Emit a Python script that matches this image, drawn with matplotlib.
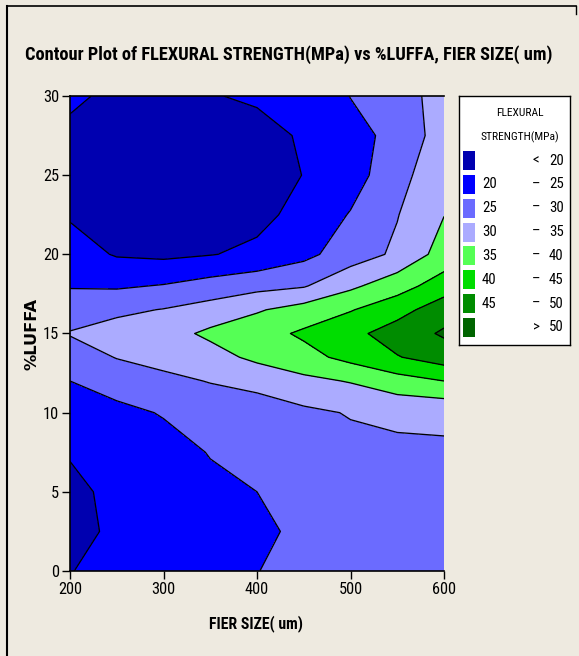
import numpy as np
import matplotlib
matplotlib.use("Agg")
import matplotlib.pyplot as plt
from matplotlib.patches import Rectangle
from matplotlib.lines import Line2D

# Fitted response surface: flexural strength (MPa) on a fibre size x %luffa grid
fiber_size = [200, 250, 300, 350, 400, 450, 500, 550, 600]
luffa_pct = [0, 2.5, 5, 7.5, 10, 12, 13.5, 15, 16.5, 18, 20, 22.5, 25, 27.5, 30]
strength = [
    [19.9, 21.0, 22.3, 23.6, 24.9, 26.5, 27.5, 28.5, 29.0],
    [18.8, 20.7, 22.0, 23.5, 23.8, 26.2, 27.2, 28.2, 28.8],
    [19.0, 21.0, 22.3, 24.0, 25.0, 26.6, 27.6, 28.5, 29.0],
    [20.3, 22.0, 23.3, 25.2, 26.5, 27.8, 28.6, 29.0, 29.3],
    [22.8, 23.8, 25.3, 27.3, 28.0, 29.0, 30.3, 31.0, 31.0],
    [25.0, 27.0, 28.9, 30.2, 31.2, 33.8, 35.3, 38.0, 40.0],
    [27.5, 30.2, 31.5, 33.0, 36.2, 38.3, 41.5, 44.7, 47.5],
    [30.3, 32.0, 33.0, 36.0, 38.0, 40.8, 43.5, 47.5, 50.6],
    [27.5, 29.0, 30.2, 32.0, 34.5, 37.0, 39.7, 43.0, 48.0],
    [24.7, 24.4, 25.3, 27.0, 28.5, 29.6, 34.0, 38.0, 42.4],
    [22.2, 19.6, 19.0, 19.8, 21.0, 23.7, 27.5, 30.9, 37.1],
    [19.5, 17.5, 16.5, 17.5, 18.7, 21.5, 25.3, 29.8, 34.9],
    [18.5, 17.0, 16.0, 17.0, 18.0, 20.1, 22.8, 28.3, 33.5],
    [18.8, 17.3, 16.5, 18.0, 18.8, 20.4, 23.5, 26.3, 32.5],
    [21.0, 18.8, 18.0, 19.8, 20.5, 21.5, 25.1, 27.8, 32.0],
]

contour_levels = [20, 25, 30, 35, 40, 45, 50]
band_colors = ["#0000B0", "#0000FF", "#6B6BFF", "#ABABFF",
               "#55FF55", "#00DD00", "#008C00", "#006400"]
x_ticks = [200, 300, 400, 500, 600]
y_ticks = [0, 5, 10, 15, 20, 25, 30]

BG = "#EEEAE0"
narrow = ["Liberation Sans Narrow", "Roboto Condensed", "DejaVu Sans"]
W, H = 579, 656

fig = plt.figure(figsize=(W / 100, H / 100), dpi=100, facecolor=BG)
renderer = fig.canvas.get_renderer()


def fit_width(txt, target_px, vertical=False):
    """Scale a text's font size so its rendered extent spans target_px."""
    bb = txt.get_window_extent(renderer)
    span = bb.height if vertical else bb.width
    txt.set_fontsize(txt.get_fontsize() * target_px / span)
    return txt.get_fontsize()


# window frame along the top and left
fig.add_artist(Line2D([7 / W, 576 / W], [1 - 5.5 / H, 1 - 5.5 / H],
                      transform=fig.transFigure, color="black", lw=1.2))
fig.add_artist(Line2D([7.5 / W, 7.5 / W], [0, 1 - 5.5 / H],
                      transform=fig.transFigure, color="black", lw=1.5))
fig.add_artist(Line2D([576 / W, 576 / W], [1 - 5.5 / H, 1 - 14 / H],
                      transform=fig.transFigure, color="black", lw=1.0))

ax = fig.add_axes([70 / W, (H - 571) / H, 374 / W, 475 / H])
ax.set_facecolor(BG)

X, Y = np.meshgrid(fiber_size, luffa_pct)
Z = np.array(strength)
bounds = [-1e9] + contour_levels + [1e9]
ax.contourf(X, Y, Z, levels=bounds, colors=band_colors)
ax.contour(X, Y, Z, levels=contour_levels, colors="black", linewidths=0.95)

ax.set_xlim(200, 600)
ax.set_ylim(0, 30)
ax.set_xticks(x_ticks)
ax.set_yticks(y_ticks)
ax.spines["right"].set_visible(False)
for side in ["left", "bottom", "top"]:
    ax.spines[side].set_linewidth(1.2)

# tick labels: narrow digits, size set from the width of "600"
probe = fig.text(0, 0, "600", fontsize=12, family=narrow, fontstretch="condensed")
tick_fs = fit_width(probe, 24)
probe.remove()
ax.tick_params(direction="out", length=6, width=1, color="black",
               labelsize=tick_fs, pad=2)
for lab in ax.get_xticklabels() + ax.get_yticklabels():
    lab.set_family(narrow)
    lab.set_fontstretch("condensed")

xl = fig.text(256 / W, 1 - 624 / H, "FIER SIZE( um)", ha="center", va="center",
              fontsize=13, fontweight="bold", family=narrow, fontstretch="condensed")
fit_width(xl, 93)
yl = fig.text(32 / W, 1 - 334 / H, "%LUFFA", ha="center", va="center",
              rotation=90, fontsize=11, fontweight="heavy",
              family=["Verdana", "DejaVu Sans"])
fit_width(yl, 72, vertical=True)

title = fig.text(289 / W, 1 - 55 / H,
                 "Contour Plot of FLEXURAL STRENGTH(MPa) vs %LUFFA, FIER SIZE( um)",
                 ha="center", va="center", fontsize=14.5, fontweight="bold",
                 family=narrow, fontstretch="condensed")
fit_width(title, 528)

# Legend panel
lx0, ly0, lw, lh = 459, 96, 111, 249
lax = fig.add_axes([lx0 / W, (H - ly0 - lh) / H, lw / W, lh / H])
lax.set_xlim(0, lw)
lax.set_ylim(lh, 0)
lax.set_facecolor("white")
lax.set_xticks([])
lax.set_yticks([])
for s in lax.spines.values():
    s.set_linewidth(1.0)

head2 = lax.text(61, 41, "STRENGTH(MPa)", ha="center", va="center",
                 fontsize=9.5, family=narrow, fontstretch="condensed")
leg_fs = fit_width(head2, 78)
lax.text(61, 17, "FLEXURAL", ha="center", va="center", fontsize=leg_fs,
         family=narrow, fontstretch="condensed")

n = len(band_colors)
for i in range(n):
    yc = 64.7 + i * 23.8
    lax.add_patch(Rectangle((3.5, yc - 9.5), 12.5, 19, facecolor=band_colors[i],
                            edgecolor="none"))
    if i == 0:
        sym, lo, hi = "<", "", str(contour_levels[0])
    elif i == n - 1:
        sym, lo, hi = ">", "", str(contour_levels[-1])
    else:
        sym, lo, hi = "\u2013", str(contour_levels[i - 1]), str(contour_levels[i])
    kw = dict(va="center", fontsize=leg_fs * 1.3, family=narrow,
              fontstretch="condensed")
    if lo:
        lax.text(23, yc, lo, ha="left", **kw)
    lax.text(77, yc, sym, ha="center", **kw)
    lax.text(90, yc, hi, ha="left", **kw)

fig.savefig("out.png", dpi=100, facecolor=BG)
